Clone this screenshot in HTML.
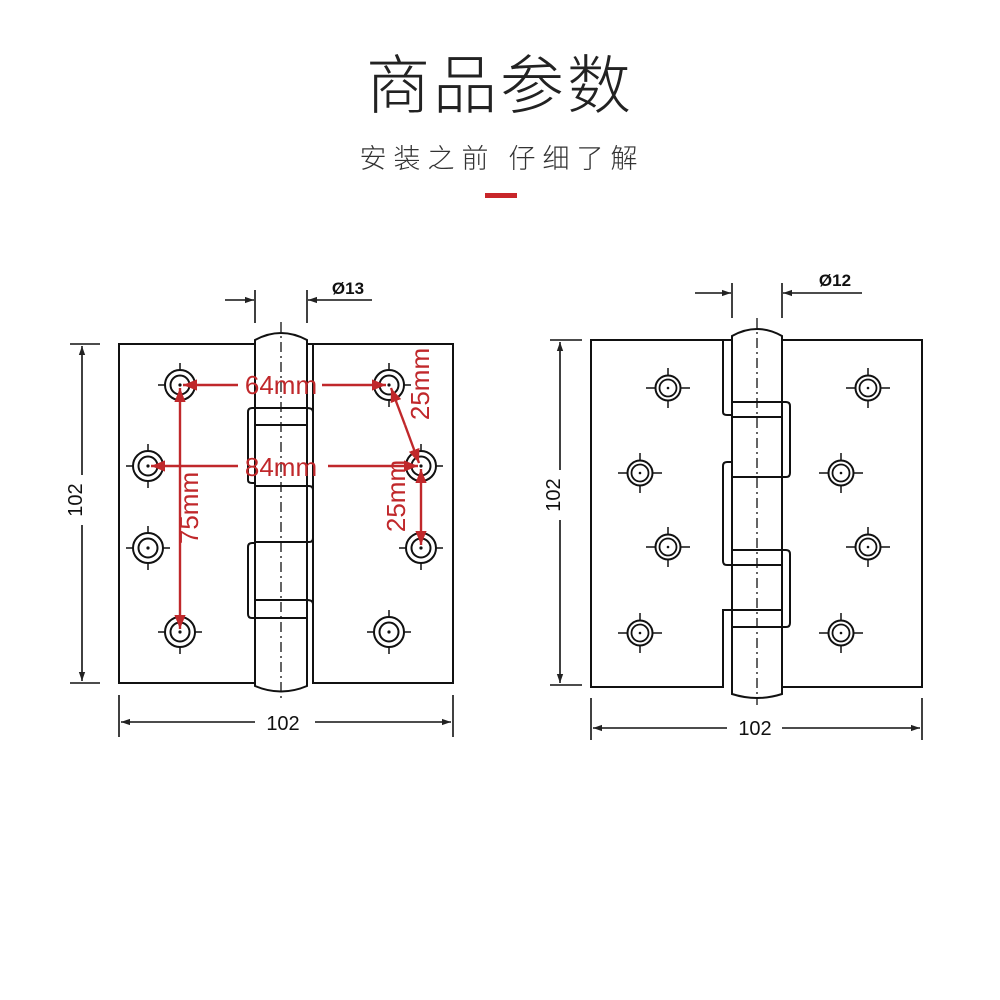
<!DOCTYPE html>
<html><head><meta charset="utf-8"><style>
html,body{margin:0;padding:0;background:#fff;width:1000px;height:1000px;overflow:hidden}
</style></head><body>
<svg width="1000" height="1000" xmlns="http://www.w3.org/2000/svg">
<defs>
<marker id="a" viewBox="0 0 10 10" refX="10" refY="5" markerWidth="12" markerHeight="9" orient="auto-start-reverse" markerUnits="userSpaceOnUse"><path d="M0,1.5 L10,5 L0,8.5z" fill="#222"/></marker>
<marker id="r" viewBox="0 0 10 10" refX="10" refY="5" markerWidth="14" markerHeight="14" orient="auto-start-reverse" markerUnits="userSpaceOnUse"><path d="M0,1 L10,5 L0,9z" fill="#c0282b"/></marker>
<g id="h1"><line x1="-22" y1="0" x2="22" y2="0" stroke="#111" stroke-width="1.5"/><line x1="0" y1="-22" x2="0" y2="22" stroke="#111" stroke-width="1.5"/><circle r="15" fill="#fff" stroke="#111" stroke-width="2"/><circle r="9.5" fill="none" stroke="#111" stroke-width="2"/><circle r="1.6" fill="#111"/></g>
<g id="h2"><line x1="-22" y1="0" x2="22" y2="0" stroke="#111" stroke-width="1.5"/><line x1="0" y1="-20" x2="0" y2="20" stroke="#111" stroke-width="1.5"/><circle r="12.5" fill="#fff" stroke="#111" stroke-width="2"/><circle r="8.5" fill="none" stroke="#111" stroke-width="1.8"/><circle r="1.3" fill="#111"/></g>
</defs>
<text x="500" y="108" text-anchor="middle" font-family="Noto Sans CJK SC, sans-serif" font-weight="300" font-size="64" fill="#222" letter-spacing="3">商品参数</text>
<text x="502" y="168" text-anchor="middle" font-family="Noto Sans CJK SC, sans-serif" font-weight="300" font-size="27" fill="#333" letter-spacing="7">安装之前 仔细了解</text>
<rect x="485" y="193" width="32" height="5" fill="#c8262a"/>

<g fill="none" stroke="#111" stroke-width="2">
<path d="M255,344 H119 V683 H255"/>
<path d="M307,344 H313 V683 H453 V344 H313"/>
<path d="M255,340 Q281,326 307,340 V686 Q281,697 255,686 Z"/>
<path d="M255,408 H307 M255,425 H307"/>
<path d="M255,408 H252 Q248,408 248,412 V480 Q248,483 252,483 H255"/>
<path d="M307,408 Q313,408 313,412 V425"/>
<path d="M255,486 H309 Q313,486 313,490 V538 Q313,542 309,542 H255"/>
<path d="M255,543 H252 Q248,543 248,547 V614 Q248,618 252,618 H255"/>
<path d="M255,600 H307 M255,618 H307"/>
<path d="M307,600 Q313,600 313,604 V618"/>
</g>
<line x1="281" y1="322" x2="281" y2="700" stroke="#111" stroke-width="1.3" stroke-dasharray="10,4,2,4"/>
<use href="#h1" x="180" y="385"/><use href="#h1" x="148" y="466"/><use href="#h1" x="148" y="548"/><use href="#h1" x="180" y="632"/>
<use href="#h1" x="389" y="385"/><use href="#h1" x="421" y="466"/><use href="#h1" x="421" y="548"/><use href="#h1" x="389" y="632"/>
<g stroke="#111" stroke-width="1.6" fill="none">
<line x1="70" y1="344" x2="100" y2="344"/><line x1="70" y1="683" x2="100" y2="683"/>
<line x1="82" y1="346" x2="82" y2="475" marker-start="url(#a)"/><line x1="82" y1="525" x2="82" y2="681" marker-end="url(#a)"/>
<line x1="119" y1="695" x2="119" y2="737"/><line x1="453" y1="695" x2="453" y2="737"/>
<line x1="121" y1="722" x2="255" y2="722" marker-start="url(#a)"/><line x1="315" y1="722" x2="451" y2="722" marker-end="url(#a)"/>
<line x1="255" y1="290" x2="255" y2="323"/><line x1="307" y1="290" x2="307" y2="323"/>
<line x1="225" y1="300" x2="254" y2="300" marker-end="url(#a)"/><line x1="372" y1="300" x2="308" y2="300" marker-end="url(#a)"/>
</g>
<text x="89" y="500" transform="rotate(-90 82 500)" font-family="Liberation Sans, sans-serif" font-size="20" fill="#111" text-anchor="middle" dx="-7">102</text>
<text x="283" y="730" font-family="Liberation Sans, sans-serif" font-size="20" fill="#111" text-anchor="middle">102</text>
<text x="348" y="294" font-family="Liberation Sans, sans-serif" font-size="17" font-weight="bold" fill="#111" text-anchor="middle">Ø13</text>
<g stroke="#c0282b" stroke-width="2.4" fill="none">
<line x1="238" y1="385" x2="183" y2="385" marker-end="url(#r)"/><line x1="322" y1="385" x2="386" y2="385" marker-end="url(#r)"/>
<line x1="238" y1="466" x2="151" y2="466" marker-end="url(#r)"/><line x1="328" y1="466" x2="418" y2="466" marker-end="url(#r)"/>
<line x1="180" y1="510" x2="180" y2="388" marker-end="url(#r)"/><line x1="180" y1="510" x2="180" y2="629" marker-end="url(#r)"/>
<line x1="405" y1="425" x2="391" y2="388" marker-end="url(#r)"/><line x1="405" y1="425" x2="419" y2="463" marker-end="url(#r)"/>
<line x1="421" y1="505" x2="421" y2="469" marker-end="url(#r)"/><line x1="421" y1="505" x2="421" y2="545" marker-end="url(#r)"/>
</g>
<g font-family="Liberation Sans, sans-serif" font-size="26" fill="#c0282b" text-anchor="middle">
<text x="281" y="394">64mm</text>
<text x="281" y="476">84mm</text>
<text x="207" y="517" transform="rotate(-90 198 517)">75mm</text>
<text x="438" y="393" transform="rotate(-90 429 393)">25mm</text>
<text x="414" y="505" transform="rotate(-90 405 505)">25mm</text>
</g>

<g fill="none" stroke="#111" stroke-width="2">
<path d="M732,340 H591 V687 H723 V610 Q723,610 727,610 H732"/>
<path d="M723,340 V412 Q723,415 727,415 H732"/>
<path d="M782,340 H922 V687 H782"/>
<path d="M732,336 Q757,322 782,336 V694 Q757,702 732,694 Z"/>
<path d="M732,402 H786 Q790,402 790,406 V473 Q790,477 786,477 H732"/>
<path d="M732,417 H782"/>
<path d="M732,462 H727 Q723,462 723,466 V561 Q723,565 727,565 H732"/>
<path d="M732,550 H786 Q790,550 790,554 V623 Q790,627 786,627 H732"/>
<path d="M732,565 H782 M732,610 H782"/>
</g>
<line x1="757" y1="318" x2="757" y2="705" stroke="#111" stroke-width="1.3" stroke-dasharray="10,4,2,4"/>
<use href="#h2" x="668" y="388"/><use href="#h2" x="640" y="473"/><use href="#h2" x="668" y="547"/><use href="#h2" x="640" y="633"/>
<use href="#h2" x="868" y="388"/><use href="#h2" x="841" y="473"/><use href="#h2" x="868" y="547"/><use href="#h2" x="841" y="633"/>
<g stroke="#111" stroke-width="1.6" fill="none">
<line x1="550" y1="340" x2="582" y2="340"/><line x1="550" y1="685" x2="582" y2="685"/>
<line x1="560" y1="342" x2="560" y2="470" marker-start="url(#a)"/><line x1="560" y1="520" x2="560" y2="683" marker-end="url(#a)"/>
<line x1="591" y1="698" x2="591" y2="740"/><line x1="922" y1="698" x2="922" y2="740"/>
<line x1="593" y1="728" x2="727" y2="728" marker-start="url(#a)"/><line x1="782" y1="728" x2="920" y2="728" marker-end="url(#a)"/>
<line x1="732" y1="283" x2="732" y2="318"/><line x1="782" y1="283" x2="782" y2="318"/>
<line x1="695" y1="293" x2="731" y2="293" marker-end="url(#a)"/><line x1="862" y1="293" x2="783" y2="293" marker-end="url(#a)"/>
</g>
<text x="567" y="495" transform="rotate(-90 560 495)" font-family="Liberation Sans, sans-serif" font-size="20" fill="#111" text-anchor="middle" dx="-7">102</text>
<text x="755" y="735" font-family="Liberation Sans, sans-serif" font-size="20" fill="#111" text-anchor="middle">102</text>
<text x="835" y="286" font-family="Liberation Sans, sans-serif" font-size="17" font-weight="bold" fill="#111" text-anchor="middle">Ø12</text>
</svg>
</body></html>
